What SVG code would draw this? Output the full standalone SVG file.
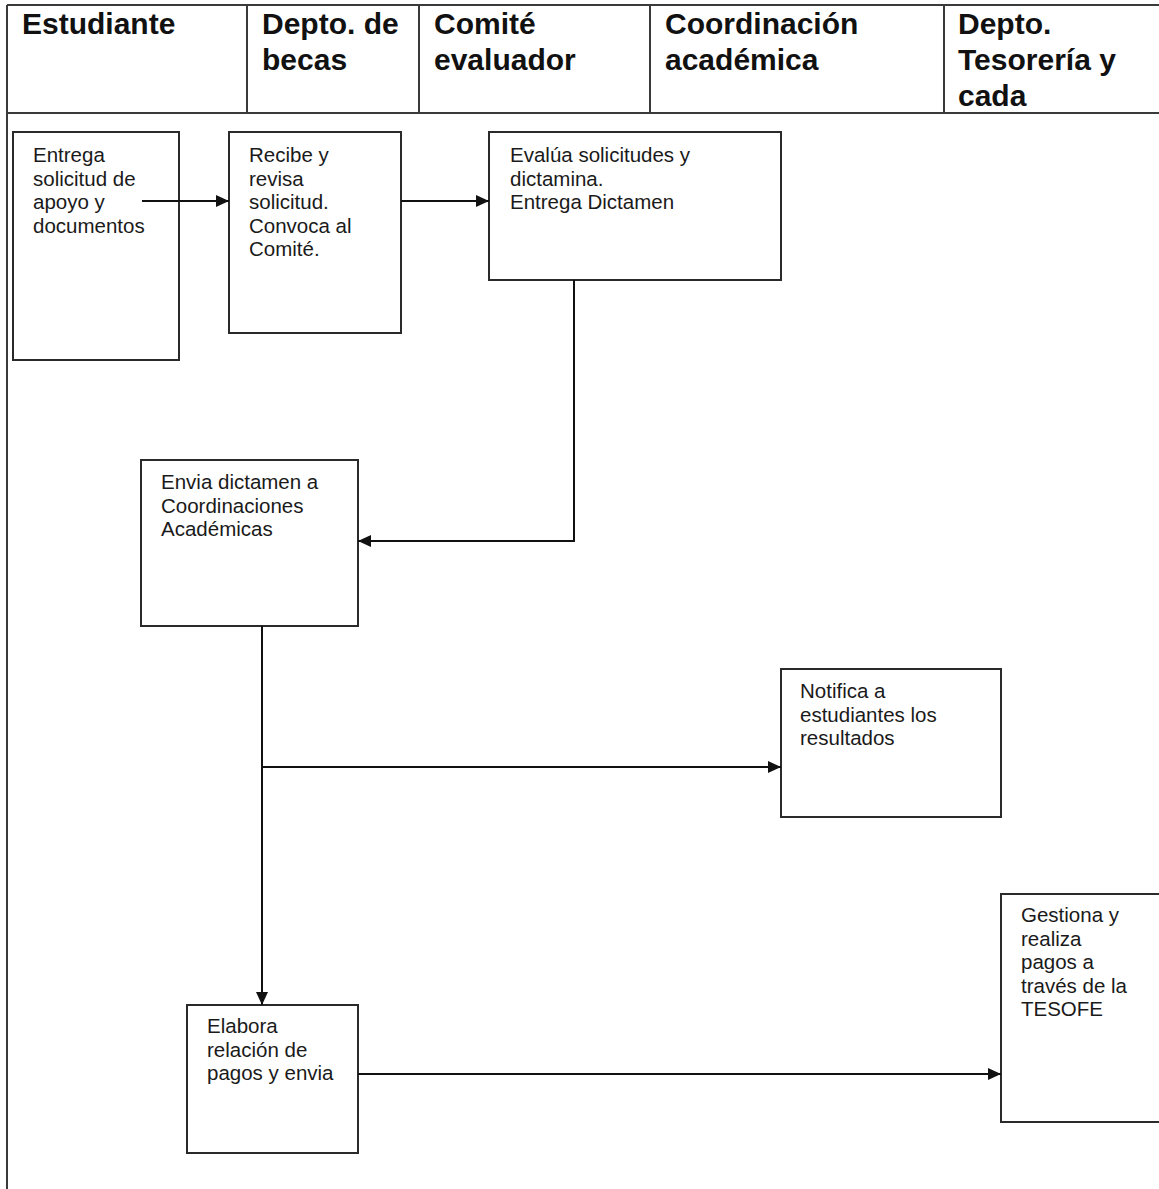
<svg xmlns="http://www.w3.org/2000/svg" width="1159" height="1189" viewBox="0 0 1159 1189">
<style>
.frame{stroke:#3a3a3a;stroke-width:2;fill:none}
.box{fill:#fff;stroke:#2a2a2a;stroke-width:2}
.hd{font-family:"Liberation Sans",Arial,sans-serif;font-weight:bold;font-size:30px;fill:#111}
.tx{font-family:"Liberation Sans",Arial,sans-serif;font-size:20.5px;fill:#1a1a1a}
.cn{stroke:#111;stroke-width:2;fill:none}
</style>
<defs>
<marker id="ah" viewBox="0 0 13 12" refX="13" refY="6" markerWidth="13" markerHeight="12" markerUnits="userSpaceOnUse" orient="auto">
<path d="M0,0 L13,6 L0,12 Z" fill="#111"/>
</marker>
</defs>
<rect width="1159" height="1189" fill="#fff"/>
<g id="lanes">
<line class="frame" x1="7" y1="5" x2="1159" y2="5"/>
<line class="frame" x1="7" y1="113" x2="1159" y2="113"/>
<line class="frame" x1="7" y1="5" x2="7" y2="1189"/>
<line class="frame" x1="247" y1="5" x2="247" y2="113"/>
<line class="frame" x1="419" y1="5" x2="419" y2="113"/>
<line class="frame" x1="650" y1="5" x2="650" y2="113"/>
<line class="frame" x1="944" y1="5" x2="944" y2="113"/>
<text class="hd" x="22" y="34">Estudiante</text>
<text class="hd" x="262" y="34">Depto. de</text>
<text class="hd" x="262" y="70">becas</text>
<text class="hd" x="434" y="34">Comité</text>
<text class="hd" x="434" y="70">evaluador</text>
<text class="hd" x="665" y="34">Coordinación</text>
<text class="hd" x="665" y="70">académica</text>
<text class="hd" x="958" y="34">Depto.</text>
<text class="hd" x="958" y="70">Tesorería y</text>
<text class="hd" x="958" y="106">cada</text>
</g>
<g id="n1">
<rect class="box" x="13" y="132" width="166" height="228"/>
<text class="tx" x="33" y="162">Entrega</text>
<text class="tx" x="33" y="185.5">solicitud de</text>
<text class="tx" x="33" y="209">apoyo y</text>
<text class="tx" x="33" y="232.5">documentos</text>
</g>
<g id="n2">
<rect class="box" x="229" y="132" width="172" height="201"/>
<text class="tx" x="249" y="162">Recibe y</text>
<text class="tx" x="249" y="185.5">revisa</text>
<text class="tx" x="249" y="209">solicitud.</text>
<text class="tx" x="249" y="232.5">Convoca al</text>
<text class="tx" x="249" y="256">Comité.</text>
</g>
<g id="n3">
<rect class="box" x="489" y="132" width="292" height="148"/>
<text class="tx" x="510" y="162">Evalúa solicitudes y</text>
<text class="tx" x="510" y="185.5">dictamina.</text>
<text class="tx" x="510" y="209">Entrega Dictamen</text>
</g>
<g id="n4">
<rect class="box" x="141" y="460" width="217" height="166"/>
<text class="tx" x="161" y="489">Envia dictamen a</text>
<text class="tx" x="161" y="512.5">Coordinaciones</text>
<text class="tx" x="161" y="536">Académicas</text>
</g>
<g id="n5">
<rect class="box" x="781" y="669" width="220" height="148"/>
<text class="tx" x="800" y="698">Notifica a</text>
<text class="tx" x="800" y="721.5">estudiantes los</text>
<text class="tx" x="800" y="745">resultados</text>
</g>
<g id="n6">
<rect class="box" x="187" y="1005" width="171" height="148"/>
<text class="tx" x="207" y="1033">Elabora</text>
<text class="tx" x="207" y="1056.5">relación de</text>
<text class="tx" x="207" y="1080">pagos y envia</text>
</g>
<g id="n7">
<rect class="box" x="1001" y="894" width="170" height="228"/>
<text class="tx" x="1021" y="922">Gestiona y</text>
<text class="tx" x="1021" y="945.5">realiza</text>
<text class="tx" x="1021" y="969">pagos a</text>
<text class="tx" x="1021" y="992.5">través de la</text>
<text class="tx" x="1021" y="1016">TESOFE</text>
</g>
<g id="connectors">
<line class="cn" x1="142" y1="201" x2="229" y2="201" marker-end="url(#ah)"/>
<line class="cn" x1="401" y1="201" x2="489" y2="201" marker-end="url(#ah)"/>
<polyline class="cn" points="574,280 574,541 358,541" marker-end="url(#ah)"/>
<line class="cn" x1="262" y1="626" x2="262" y2="1005" marker-end="url(#ah)"/>
<line class="cn" x1="262" y1="767" x2="781" y2="767" marker-end="url(#ah)"/>
<line class="cn" x1="358" y1="1074" x2="1001" y2="1074" marker-end="url(#ah)"/>
</g>
</svg>
